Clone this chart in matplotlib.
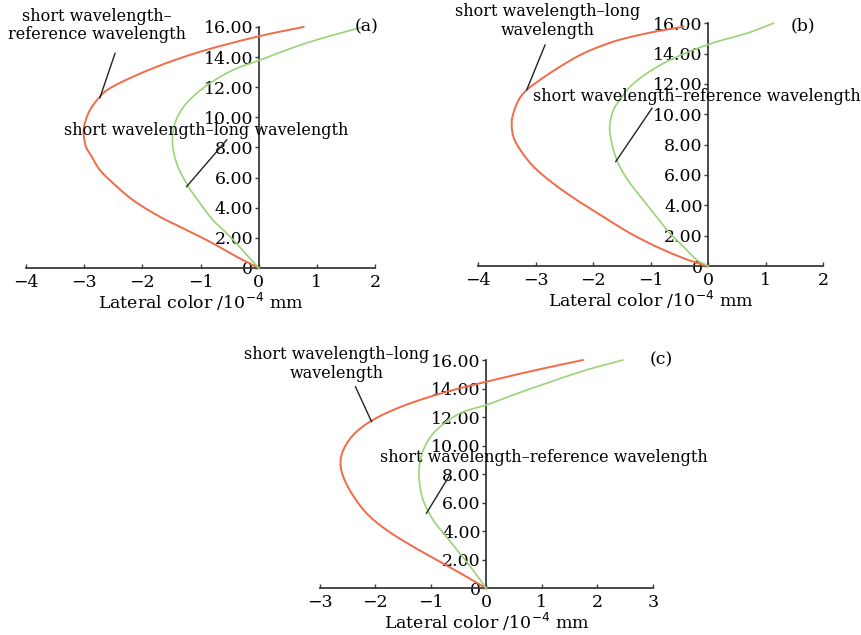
import numpy as np
import matplotlib
matplotlib.use("Agg")
import matplotlib.pyplot as plt

plt.rcParams['font.family'] = 'DejaVu Serif'
plt.rcParams['axes.unicode_minus'] = True

# ---- data: (lateral colour /1e-4 mm, field height) ----
# panel (a)
a_red_x = [0.00, -0.33, -0.79, -1.24, -1.70, -2.16, -2.50, -2.73, -2.87, -2.97, -3.01, -2.99,
           -2.90, -2.73, -2.56, -2.16, -1.59, -0.90, 0.02, 0.77]
a_red_y = [0.00, 0.64, 1.64, 2.52, 3.40, 4.50, 5.62, 6.50, 7.39, 8.05, 8.94, 9.60,
           10.49, 11.38, 11.93, 12.70, 13.60, 14.48, 15.40, 16.00]
a_grn_x = [0.00, -0.33, -0.55, -0.79, -1.01, -1.21, -1.39, -1.47, -1.48, -1.44, -1.33, -1.13,
           -0.84, -0.44, 0.02, 0.48, 0.99, 1.79]
a_grn_y = [0.00, 1.41, 2.30, 3.19, 4.30, 5.40, 6.73, 7.84, 8.72, 9.60, 10.49, 11.38,
           12.26, 13.15, 13.80, 14.48, 15.14, 16.00]

# panel (b)
b_red_x = [-0.03, -0.43, -0.90, -1.36, -1.83, -2.29, -2.70, -3.04, -3.27, -3.39, -3.42, -3.39,
           -3.30, -3.16, -2.93, -2.58, -2.17, -1.65, -1.07, -0.43]
b_red_y = [0.00, 0.51, 1.27, 2.16, 3.25, 4.35, 5.45, 6.55, 7.65, 8.52, 9.41, 10.07,
           10.94, 11.60, 12.26, 13.14, 14.02, 14.79, 15.34, 15.78]
b_grn_x = [0.00, -0.20, -0.43, -0.67, -0.90, -1.13, -1.36, -1.54, -1.65, -1.71, -1.71, -1.65,
           -1.54, -1.36, -1.07, -0.67, -0.26, 0.15, 0.67, 1.13]
b_grn_y = [0.00, 0.40, 1.27, 2.16, 3.25, 4.35, 5.45, 6.55, 7.65, 8.75, 9.41, 10.28,
           10.94, 11.82, 12.70, 13.58, 14.24, 14.79, 15.34, 16.00]

# panel (c)
c_red_x = [0.00, -0.36, -0.84, -1.32, -1.80, -2.16, -2.43, -2.58, -2.63, -2.58, -2.40, -2.10,
           -1.68, -1.20, -0.60, 0.00, 0.90, 1.74]
c_red_y = [0.00, 0.82, 1.87, 2.92, 4.09, 5.26, 6.66, 7.83, 8.76, 9.69, 10.75, 11.68,
           12.50, 13.20, 13.90, 14.48, 15.30, 16.00]
c_grn_x = [0.00, -0.24, -0.48, -0.72, -0.96, -1.14, -1.21, -1.20, -1.11, -0.90, -0.48, 0.00,
           0.48, 1.08, 1.80, 2.46]
c_grn_y = [0.00, 1.28, 2.45, 3.62, 4.79, 6.19, 7.59, 8.76, 9.93, 11.10, 12.26, 12.85,
           13.55, 14.37, 15.30, 16.00]

y_ticks = [0, 2, 4, 6, 8, 10, 12, 14, 16]
y_ticklabels = ['0', '2.00', '4.00', '6.00', '8.00', '10.00', '12.00', '14.00', '16.00']

RED = '#f26a48'
GREEN = '#9bd276'
AXC = '#3a3a3a'
FS = 11.5


def catmull(x, y, n=16):
    # centripetal-ish Catmull-Rom through the read points, just for a smooth stroke
    p = np.column_stack([x, y]).astype(float)
    p = np.vstack([2 * p[0] - p[1], p, 2 * p[-1] - p[-2]])
    out = []
    t = np.linspace(0, 1, n, endpoint=False)[:, None]
    for i in range(1, len(p) - 2):
        p0, p1, p2, p3 = p[i - 1], p[i], p[i + 1], p[i + 2]
        seg = 0.5 * ((2 * p1) + (-p0 + p2) * t + (2 * p0 - 5 * p1 + 4 * p2 - p3) * t ** 2
                     + (-p0 + 3 * p1 - 3 * p2 + p3) * t ** 3)
        out.append(seg)
    out.append(p[-2][None, :])
    out = np.vstack(out)
    return out[:, 0], out[:, 1]


def panel(rect, xlim, red, grn, tag, tagpos):
    ax = fig.add_axes(rect)
    ax.set_xlim(*xlim)
    ax.set_ylim(0, 16)
    rx, ry = catmull(*red)
    gx, gy = catmull(*grn)
    ax.plot(rx, ry, color=RED, lw=1.4, clip_on=False, zorder=3)
    ax.plot(gx, gy, color=GREEN, lw=1.2, clip_on=False, zorder=3)
    for s in ('top', 'right'):
        ax.spines[s].set_visible(False)
    ax.spines['left'].set_position(('data', 0))
    for s in ('left', 'bottom'):
        ax.spines[s].set_color(AXC)
        ax.spines[s].set_linewidth(1.3)
    ax.set_xticks(np.arange(xlim[0], xlim[1] + 1))
    ax.set_yticks(y_ticks)
    ax.set_yticklabels(y_ticklabels)
    ax.tick_params(axis='x', direction='in', length=3, width=1, color=AXC, labelsize=12.5, pad=4)
    ax.tick_params(axis='y', direction='out', length=3, width=1, color=AXC, labelsize=12.5, pad=1)
    ax.set_xlabel('Lateral color /10$^{-4}$ mm', fontsize=12.5, labelpad=0)
    ax.text(tagpos[0], tagpos[1], tag, fontsize=12.5, ha='center', va='center')
    ax.patch.set_alpha(0)
    return ax


fig = plt.figure(figsize=(8.62, 6.35), dpi=100)

# (a)
ax = panel([0.0302, 0.578, 0.4049, 0.3795], (-4, 2),
           (a_red_x, a_red_y), (a_grn_x, a_grn_y), '(a)', (1.85, 16.0))
ax.plot([-2.47, -2.73], [14.25, 11.3], color='#222222', lw=1, zorder=4)
ax.plot([-0.55, -1.24], [8.5, 5.4], color='#222222', lw=1, zorder=4)
ax.text(-2.78, 16.1, 'short wavelength\u2013\nreference wavelength', fontsize=FS,
        ha='center', va='center', linespacing=1.15)
ax.text(-0.9, 9.1, 'short wavelength\u2013long wavelength', fontsize=FS,
        ha='center', va='center')

# (b)
ax = panel([0.5549, 0.5811, 0.4002, 0.3822], (-4, 2),
           (b_red_x, b_red_y), (b_grn_x, b_grn_y), '(b)', (1.65, 15.8))
ax.plot([-2.84, -3.16], [14.57, 11.6], color='#222222', lw=1, zorder=4)
ax.plot([-0.98, -1.61], [10.4, 6.88], color='#222222', lw=1, zorder=4)
ax.text(-2.8, 16.15, 'short wavelength\u2013long\nwavelength', fontsize=FS,
        ha='center', va='center', linespacing=1.15)
ax.text(-0.2, 11.15, 'short wavelength\u2013reference wavelength', fontsize=FS,
        ha='center', va='center')

# (c)
ax = panel([0.3712, 0.0735, 0.386, 0.3595], (-3, 3),
           (c_red_x, c_red_y), (c_grn_x, c_grn_y), '(c)', (3.15, 16.0))
ax.plot([-2.36, -2.07], [14.13, 11.68], color='#222222', lw=1, zorder=4)
ax.plot([-0.66, -1.08], [7.94, 5.26], color='#222222', lw=1, zorder=4)
ax.text(-2.7, 15.75, 'short wavelength\u2013long\nwavelength', fontsize=FS,
        ha='center', va='center', linespacing=1.15)
ax.text(-1.92, 9.2, 'short wavelength\u2013reference wavelength', fontsize=FS,
        ha='left', va='center')

fig.savefig('out.png', dpi=100)
